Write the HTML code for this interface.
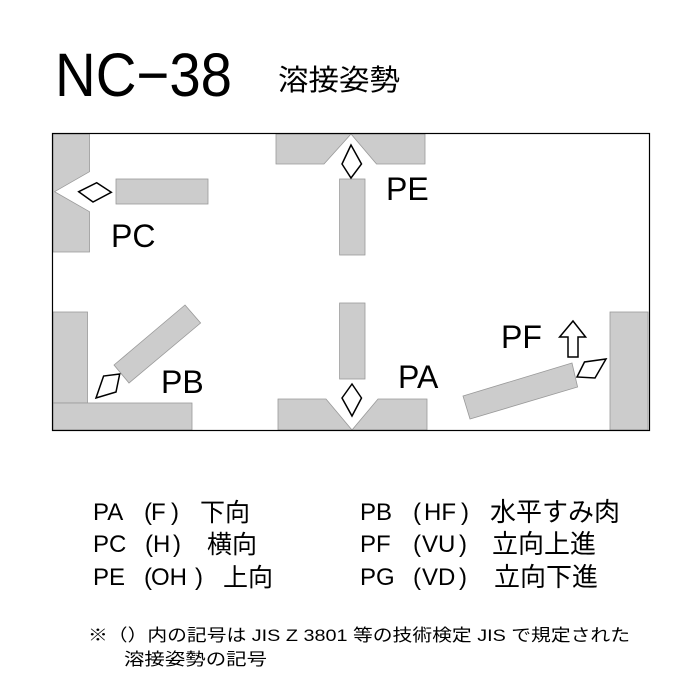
<!DOCTYPE html>
<html><head><meta charset="utf-8"><style>
html,body{margin:0;padding:0;background:#fff;}
svg{display:block;}
text{font-family:"Liberation Sans","Noto Sans CJK JP",sans-serif;fill:#000;}
</style></head><body>
<svg width="700" height="700" viewBox="0 0 700 700" xmlns="http://www.w3.org/2000/svg">
<text x="55" y="96" font-size="61" textLength="177" lengthAdjust="spacingAndGlyphs">NC−38</text>
<text x="278" y="90" font-size="29" textLength="122" lengthAdjust="spacingAndGlyphs">溶接姿勢</text>

<g fill="#cccccc" stroke="#999" stroke-width="0.8">
<polygon points="53,134 89.5,134 89.5,171.7 54.6,191.7 89.5,211.7 89.5,252 53,252"/>
<rect x="116" y="179" width="92" height="25"/>
<polygon points="276,134 351,134 324,164 276,164"/>
<polygon points="351,134 425,134 425,164 376.5,164"/>
<rect x="339.6" y="179" width="25.4" height="76"/>
<rect x="339.6" y="303" width="25.4" height="76"/>
<polygon points="278,399 326,399 352,430 278,430"/>
<polygon points="378,399 427,399 427,430 352,430"/>
<rect x="53" y="312" width="34.5" height="91"/>
<rect x="53" y="403" width="139" height="27"/>
<polygon points="185,305 200.6,323 129,383 114,365"/>
<rect x="610" y="312" width="38" height="118"/>
<polygon points="463,396 572,363 577.6,387 470,419"/>
</g>

<g fill="#fff" stroke="#000" stroke-width="1.5" stroke-linejoin="miter">
<polygon points="78.7,191.7 96.7,182.7 111.3,192.3 93,202"/>
<polygon points="351,145 342,164 351,178 361.5,164"/>
<polygon points="352,384 342,398 352,416 361.5,398"/>
<polygon points="96,398 103.6,376 119.7,374 116,392"/>
<polygon points="577,377 584.5,362 606,359 595,378"/>
<polygon points="573,321 585.6,337 578,337 578,357 568,357 568,337 559.6,337"/>
</g>

<rect x="52.5" y="133.5" width="597" height="297" fill="none" stroke="#000" stroke-width="1.2"/>

<g font-size="32">
<text x="111" y="247">PC</text>
<text x="386" y="200">PE</text>
<text x="398" y="388">PA</text>
<text x="161" y="393">PB</text>
<text x="501" y="348">PF</text>
</g>

<g font-size="24">
<text x="93" y="520">PA</text><text x="144" y="520">(</text><text x="151" y="520">F</text><text x="171" y="520">)</text><text x="200" y="521" font-size="25">下向</text>
<text x="93" y="552">PC</text><text x="145" y="552">(</text><text x="153" y="552">H</text><text x="173" y="552">)</text><text x="207" y="553" font-size="25">横向</text>
<text x="93" y="585">PE</text><text x="144" y="585">(</text><text x="151" y="585">OH</text><text x="195" y="585">)</text><text x="223" y="586" font-size="25">上向</text>

<text x="360" y="520">PB</text><text x="413" y="520">(</text><text x="424" y="520">HF</text><text x="461" y="520">)</text><text x="490" y="521" font-size="26">水平すみ肉</text>
<text x="360" y="552">PF</text><text x="413" y="552">(</text><text x="422" y="552">VU</text><text x="459" y="552">)</text><text x="492" y="553" font-size="26">立向上進</text>
<text x="360" y="585">PG</text><text x="413" y="585">(</text><text x="422" y="585">VD</text><text x="459" y="585">)</text><text x="494" y="586" font-size="26">立向下進</text>
</g>
<g font-size="17">
<text x="88" y="641" textLength="542" lengthAdjust="spacingAndGlyphs">※（）内の記号は JIS Z 3801 等の技術検定 JIS で規定された</text>
<text x="124" y="665" textLength="143" lengthAdjust="spacingAndGlyphs">溶接姿勢の記号</text>
</g>
</svg>
</body></html>
